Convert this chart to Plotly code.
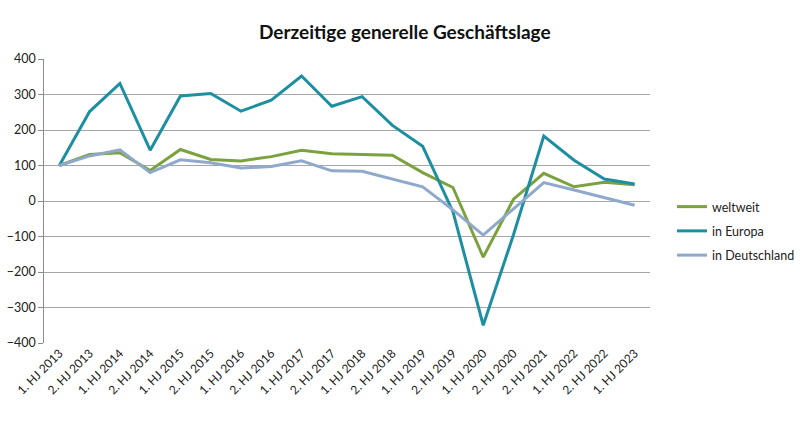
import plotly.graph_objects as go

# half-year periods (note: 1. HJ 2021 is not in the source chart)
periods = ["1. HJ 2013", "2. HJ 2013", "1. HJ 2014", "2. HJ 2014", "1. HJ 2015",
           "2. HJ 2015", "1. HJ 2016", "2. HJ 2016", "1. HJ 2017", "2. HJ 2017",
           "1. HJ 2018", "2. HJ 2018", "1. HJ 2019", "2. HJ 2019", "1. HJ 2020",
           "2. HJ 2020", "2. HJ 2021", "1. HJ 2022", "2. HJ 2022", "1. HJ 2023"]

weltweit = [100, 131, 136, 86, 145, 117, 113, 125, 143, 133,
            131, 129, 80, 38, -158, 5, 78, 40, 53, 46]
europa = [100, 252, 331, 143, 296, 303, 253, 284, 352, 267,
          294, 213, 154, -30, -350, -95, 183, 115, 62, 48]
deutschland = [100, 127, 144, 80, 116, 108, 93, 97, 113, 85,
               84, 61, 40, -25, -96, -22, 52, 31, 10, -12]

y_ticks = [-400, -300, -200, -100, 0, 100, 200, 300, 400]

series = [("weltweit", weltweit, "#7BA23F"),
          ("in Europa", europa, "#1E8FA1"),
          ("in Deutschland", deutschland, "#8FA9CC")]

fig = go.Figure()
for name, vals, col in series:
    # separate legend groups so tracegroupgap spaces the entries like the original
    fig.add_trace(go.Scatter(x=list(range(len(periods))), y=vals, mode="lines", name=name,
                             legendgroup=name, line=dict(color=col, width=3)))

n = len(periods)
# plot area placed via domains so legend / labels don't shift it
x_dom = [45.5 / 800, 669 / 800]
y_dom = [78 / 421, 362 / 421]
zero_pos = (y_dom[0] + y_dom[1]) / 2

fig.update_layout(
    width=800, height=421,
    paper_bgcolor="white", plot_bgcolor="white",
    font=dict(family="Lato, Open Sans, sans-serif", color="#222222"),
    margin=dict(l=0, r=0, t=0, b=0),
    title=dict(text="<b>Derzeitige generelle Geschäftslage</b>", x=0.506, xanchor="center",
               y=0.924, yanchor="middle", font=dict(size=19, color="#111111")),
    xaxis=dict(domain=x_dom, range=[-0.5, n - 0.5], tickvals=list(range(n)), ticktext=periods,
               tickangle=-45, tickfont=dict(size=12), showgrid=False, showline=False,
               ticks="", zeroline=False, automargin=False),
    xaxis2=dict(overlaying="x", anchor="free", position=zero_pos, range=[-0.5, n - 0.5],
                tickvals=[i - 0.5 for i in range(n + 1)], showticklabels=False,
                ticks="outside", ticklen=5, tickcolor="#8C8C8C", showline=True,
                linecolor="#8C8C8C", linewidth=1, showgrid=False, zeroline=False,
                automargin=False),
    yaxis=dict(domain=y_dom, range=[-400, 400], tickvals=y_ticks, tickfont=dict(size=12.5),
               showgrid=True, gridcolor="#A6A6A6", gridwidth=1, zeroline=False,
               showline=True, linecolor="#8C8C8C", ticks="outside", ticklen=5,
               tickcolor="#8C8C8C", automargin=False),
    legend=dict(x=0.865, xanchor="left", y=(421 - 192) / 421, yanchor="top", font=dict(size=12.5),
                bgcolor="rgba(0,0,0,0)", tracegroupgap=5, itemwidth=30),
    showlegend=True,
)

# drop the page's default body margin so the figure fills the window exactly
fig.write_html("out.html", config={"displayModeBar": False},
               post_script="document.body.style.margin='0';")
